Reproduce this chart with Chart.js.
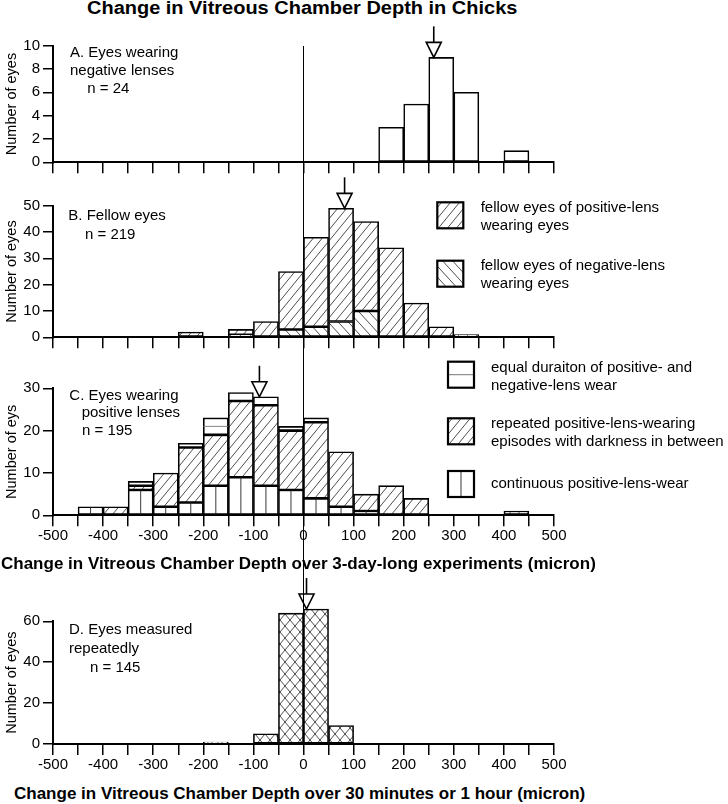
<!DOCTYPE html>
<html>
<head>
<meta charset="utf-8">
<title>Change in Vitreous Chamber Depth in Chicks</title>
<script src="https://cdn.jsdelivr.net/npm/chart.js@4.4.1/dist/chart.umd.min.js"></script>
<style>
  body { margin: 0; background: #fff; }
  #page { position: relative; width: 728px; height: 804px; overflow: hidden;
          font-family: 'Liberation Sans', Arial, sans-serif; color: #000; }
  canvas { position: absolute; left: 0; }
  .txt { position: absolute; font-size: 15px; line-height: 18px; white-space: nowrap; }
  .bold { position: absolute; font-weight: bold; font-size: 17px; line-height: 20px; white-space: nowrap; }
  #zeroLine { position: absolute; width: 1.8px; background: #000; }
</style>
</head>
<body>
<div id="page">
  <div class="bold" style="left:86.7px;top:-1.6px;font-size:18px;line-height:21px;transform:scaleX(1.11);transform-origin:left">Change in Vitreous Chamber Depth in Chicks</div>

  <canvas id="chartA" width="728" height="160" style="top:15px"></canvas>
  <canvas id="chartB" width="728" height="180" style="top:170px"></canvas>
  <canvas id="chartC" width="728" height="191" style="top:355px"></canvas>
  <canvas id="chartD" width="728" height="204" style="top:572px"></canvas>

  <!-- panel notes -->
  <div class="txt" style="left:70px;top:43.1px">A. Eyes wearing</div>
  <div class="txt" style="left:70px;top:60.8px">negative lenses</div>
  <div class="txt" style="left:87.3px;top:79.1px">n = 24</div>

  <div class="txt" style="left:68.3px;top:205.8px">B. Fellow eyes</div>
  <div class="txt" style="left:85px;top:224.8px">n = 219</div>

  <div class="txt" style="left:69.3px;top:385.5px">C. Eyes wearing</div>
  <div class="txt" style="left:81.7px;top:402.5px">positive lenses</div>
  <div class="txt" style="left:82px;top:420.8px">n = 195</div>

  <div class="txt" style="left:69px;top:619.8px">D. Eyes measured</div>
  <div class="txt" style="left:69px;top:638.5px">repeatedly</div>
  <div class="txt" style="left:90px;top:657.5px">n = 145</div>

  <!-- legend texts -->
  <div class="txt" style="left:480.7px;top:198.1px">fellow eyes of positive-lens</div>
  <div class="txt" style="left:480.7px;top:215.8px">wearing eyes</div>
  <div class="txt" style="left:480.7px;top:255.8px">fellow eyes of negative-lens</div>
  <div class="txt" style="left:480.7px;top:273.5px">wearing eyes</div>

  <div class="txt" style="left:491px;top:357.8px">equal duraiton of positive- and</div>
  <div class="txt" style="left:491px;top:375.8px">negative-lens wear</div>
  <div class="txt" style="left:491px;top:414.4px">repeated positive-lens-wearing</div>
  <div class="txt" style="left:491px;top:432.3px">episodes with darkness in between</div>
  <div class="txt" style="left:491px;top:474.3px">continuous positive-lens-wear</div>

  <div class="bold" style="left:1px;top:554.1px">Change in Vitreous Chamber Depth over 3-day-long experiments (micron)</div>
  <div class="bold" style="left:14px;top:784.1px">Change in Vitreous Chamber Depth over 30 minutes or 1 hour (micron)</div>

  <div id="zeroLine"></div>
</div>

<script>
// bins are 50 micron wide, labelled by their lower edge
const binStarts = [-500, -450, -400, -350, -300, -250, -200, -150, -100, -50,
                   0, 50, 100, 150, 200, 250, 300, 350, 400, 450];

// A. eyes wearing negative lenses (n = 24)
const negLensEyes   = [0, 0, 0, 0, 0, 0, 0, 0, 0, 0,   0, 0, 0, 3, 5, 9, 6, 0, 1, 0];
// B. fellow eyes (n = 219)
const fellowOfPos   = [0, 0, 0, 0, 0, 2, 0, 2, 6, 22,  34, 43, 34, 34, 13, 4, 1, 0, 0, 0];
const fellowOfNeg   = [0, 0, 0, 0, 0, 0, 0, 1, 0, 3,   4, 6, 10, 0, 0, 0, 0, 0, 0, 0];
// C. eyes wearing positive lenses (n = 195)
const continuousPos = [0, 2, 0, 6, 2, 3, 7, 9, 7, 6,   4, 2, 1, 0, 0, 0, 0, 0, 0, 0];
const repeatedPos   = [0, 0, 2, 1, 8, 13, 12, 18, 19, 14,  18, 13, 4, 7, 4, 0, 0, 0, 1, 0];
const equalPosNeg   = [0, 0, 0, 1, 0, 1, 4, 2, 2, 1,   1, 0, 0, 0, 0, 0, 0, 0, 0, 0];
// D. eyes measured repeatedly (n = 145)
const repeatedMeas  = [0, 0, 0, 0, 0, 0, 1, 0, 5, 64,  66, 9, 0, 0, 0, 0, 0, 0, 0, 0];

// arrows: [micron, count at tip]
const arrowA = [260, 9];
const arrowB = [82, 49];
const arrowC = [-88, 28];
const arrowD = [6, 66];

// axis ticks
const xTicks = [-500, -450, -400, -350, -300, -250, -200, -150, -100, -50, 0,
                50, 100, 150, 200, 250, 300, 350, 400, 450, 500];
const xTickLabels = [-500, -400, -300, -200, -100, 0, 100, 200, 300, 400, 500];
const yTicksA = [0, 2, 4, 6, 8, 10];
const yTicksB = [0, 10, 20, 30, 40, 50];
const yTicksC = [0, 10, 20, 30];
const yTicksD = [0, 20, 40, 60];

const AREA_LEFT = 53;
const AREA_RIGHT = 554;
const FONT = "'Liberation Sans', Arial, sans-serif";

Chart.defaults.font.family = FONT;
Chart.defaults.color = '#000';

function hatch(w, h, kind) {
    const c = document.createElement('canvas');
    c.width = w; c.height = h;
    const g = c.getContext('2d');
    g.fillStyle = '#fff';
    g.fillRect(0, 0, w, h);
    g.strokeStyle = '#222';
    g.lineWidth = 0.8;
    const segs = [];
    if (kind === '/' || kind === 'x') segs.push([0, h, w, 0], [-w, h, 0, 0], [w, h, 2 * w, 0]);
    if (kind === '\\' || kind === 'x') segs.push([0, 0, w, h], [-w, 0, 0, h], [w, 0, 2 * w, h]);
    segs.forEach(s => {
        g.beginPath(); g.moveTo(s[0], s[1]); g.lineTo(s[2], s[3]); g.stroke();
    });
    return g.createPattern(c, 'repeat');
}

const fwdHatch = hatch(9, 11, '/');
const backHatch = hatch(10, 11, '\\');
const crossHatch = hatch(10, 12, 'x');

const nz = arr => arr.map(v => v === 0 ? null : v);

function barSet(label, values, fill, extra) {
    return Object.assign({
        label: label,
        data: nz(values),
        xAxisID: 'x',
        yAxisID: 'y',
        backgroundColor: fill,
        borderColor: '#000',
        borderWidth: 1.6,
        borderSkipped: false,
        barPercentage: 1,
        categoryPercentage: 1,
        clip: false
    }, extra || {});
}

// arrows, inner line patterns and legend swatches
const panelDecor = {
    id: 'panelDecor',
    afterDatasetsDraw(chart, args, opts) {
        const ctx = chart.ctx;
        ctx.save();
        chart.data.datasets.forEach((ds, i) => {
            const meta = chart.getDatasetMeta(i);
            meta.data.forEach((bar, j) => {
                if (ds.data[j] == null) return;
                const top = Math.min(bar.y, bar.base);
                const bottom = Math.max(bar.y, bar.base);
                if (ds.vline) {
                    ctx.strokeStyle = '#222';
                    ctx.lineWidth = 0.9;
                    ctx.beginPath();
                    ctx.moveTo(bar.x, top);
                    ctx.lineTo(bar.x, bottom);
                    ctx.stroke();
                }
                if (ds.hline && bottom - top > 10) {
                    const my = (top + bottom) / 2;
                    ctx.strokeStyle = '#777';
                    ctx.lineWidth = 0.9;
                    ctx.beginPath();
                    ctx.moveTo(bar.x - bar.width / 2, my);
                    ctx.lineTo(bar.x + bar.width / 2, my);
                    ctx.stroke();
                }
            });
        });

        if (opts.arrow) {
            const ax = chart.scales.xt.getPixelForValue(opts.arrow[0]);
            const tip = chart.scales.y.getPixelForValue(opts.arrow[1]);
            ctx.strokeStyle = '#000';
            ctx.lineWidth = 1.6;
            ctx.beginPath();
            ctx.moveTo(ax, tip - 31);
            ctx.lineTo(ax, tip - 15);
            ctx.stroke();
            ctx.beginPath();
            ctx.moveTo(ax - 7.5, tip - 15);
            ctx.lineTo(ax + 7.5, tip - 15);
            ctx.lineTo(ax, tip);
            ctx.closePath();
            ctx.fillStyle = '#fff';
            ctx.fill();
            ctx.stroke();
        }

        (opts.legend || []).forEach(b => {
            const y = b.y - opts.canvasTop;
            ctx.fillStyle = b.fill;
            ctx.fillRect(b.x, y, 26, 26);
            if (b.vline) {
                ctx.strokeStyle = '#222'; ctx.lineWidth = 0.9;
                ctx.beginPath(); ctx.moveTo(b.x + 13, y); ctx.lineTo(b.x + 13, y + 26); ctx.stroke();
            }
            if (b.hline) {
                ctx.strokeStyle = '#777'; ctx.lineWidth = 1;
                ctx.beginPath(); ctx.moveTo(b.x, y + 13); ctx.lineTo(b.x + 26, y + 13); ctx.stroke();
            }
            ctx.strokeStyle = '#000';
            ctx.lineWidth = 2.2;
            ctx.strokeRect(b.x, y, 26, 26);
        });
        ctx.restore();
    }
};

function panelChart(id, canvasTop, areaTop, areaBottom, xAxisH, yTicks, yTitle, labelled, datasets, arrow, legend) {
    const cv = document.getElementById(id);
    const padTop = areaTop - canvasTop;
    const padBottom = cv.height - (areaBottom - canvasTop) - xAxisH;
    return new Chart(cv, {
        type: 'bar',
        data: { labels: binStarts.map(String), datasets: datasets },
        options: {
            responsive: false,
            animation: false,
            events: [],
            layout: { padding: { top: padTop, bottom: padBottom, left: 0, right: 728 - AREA_RIGHT } },
            plugins: {
                legend: { display: false },
                tooltip: { enabled: false },
                panelDecor: { arrow: arrow, legend: legend, canvasTop: canvasTop }
            },
            scales: {
                x: { type: 'category', display: false, stacked: true, offset: true },
                xt: {
                    type: 'linear',
                    position: 'bottom',
                    min: -500,
                    max: 500,
                    offset: false,
                    afterFit: s => { s.height = xAxisH; },
                    afterBuildTicks: s => { s.ticks = xTicks.map(v => ({ value: v })); },
                    ticks: {
                        autoSkip: false,
                        maxRotation: 0,
                        padding: 1,
                        font: { size: 15 },
                        callback: v => (labelled && xTickLabels.includes(v)) ? String(v) : ''
                    },
                    grid: { offset: false, drawOnChartArea: false, drawTicks: true, tickLength: 11, color: '#000', lineWidth: 1.5 },
                    border: { display: true, color: '#000', width: 2 }
                },
                y: {
                    type: 'linear',
                    stacked: true,
                    min: 0,
                    max: yTicks[yTicks.length - 1],
                    afterFit: s => { s.width = AREA_LEFT; },
                    afterBuildTicks: s => { s.ticks = yTicks.map(v => ({ value: v })); },
                    ticks: { padding: 3, font: { size: 15 } },
                    grid: { drawOnChartArea: false, drawTicks: true, tickLength: 10, color: '#000', lineWidth: 1.5 },
                    border: { display: true, color: '#000', width: 2 },
                    title: { display: true, text: yTitle, font: { size: 14.5 }, padding: { top: 3, bottom: 0 } }
                }
            }
        },
        plugins: [panelDecor]
    });
}

const chartA = panelChart('chartA', 15, 45.7, 162.3, 12, yTicksA, 'Number of eyes', false,
    [barSet('Eyes wearing negative lenses', negLensEyes, '#fff')],
    arrowA, []);

const chartB = panelChart('chartB', 170, 205.7, 337.3, 12, yTicksB, 'Number of eyes', false,
    [barSet('fellow eyes of negative-lens wearing eyes', fellowOfNeg, backHatch),
     barSet('fellow eyes of positive-lens wearing eyes', fellowOfPos, fwdHatch)],
    arrowB,
    [{ x: 437.3, y: 202.3, fill: fwdHatch }, { x: 437.3, y: 260.7, fill: backHatch }]);

const chartC = panelChart('chartC', 355, 388.3, 515.3, 30, yTicksC, 'Number of eys', true,
    [barSet('continuous positive-lens-wear', continuousPos, '#fff', { vline: true }),
     barSet('repeated positive-lens-wearing episodes with darkness in between', repeatedPos, fwdHatch),
     barSet('equal duraiton of positive- and negative-lens wear', equalPosNeg, '#fff', { hline: true })],
    arrowC,
    [{ x: 448, y: 361.7, fill: '#fff', hline: true },
     { x: 448, y: 418.3, fill: fwdHatch },
     { x: 448, y: 471, fill: '#fff', vline: true }]);

const chartD = panelChart('chartD', 572, 621.3, 744, 30, yTicksD, 'Number of eyes', true,
    [barSet('Eyes measured repeatedly', repeatedMeas, crossHatch)],
    arrowD, []);

// shared zero line running through all four panels
const zx = chartA.scales.xt.getPixelForValue(0);
const zl = document.getElementById('zeroLine');
zl.style.left = (zx - 0.9) + 'px';
zl.style.top = '45.7px';
zl.style.height = (744 - 45.7) + 'px';
</script>
</body>
</html>
